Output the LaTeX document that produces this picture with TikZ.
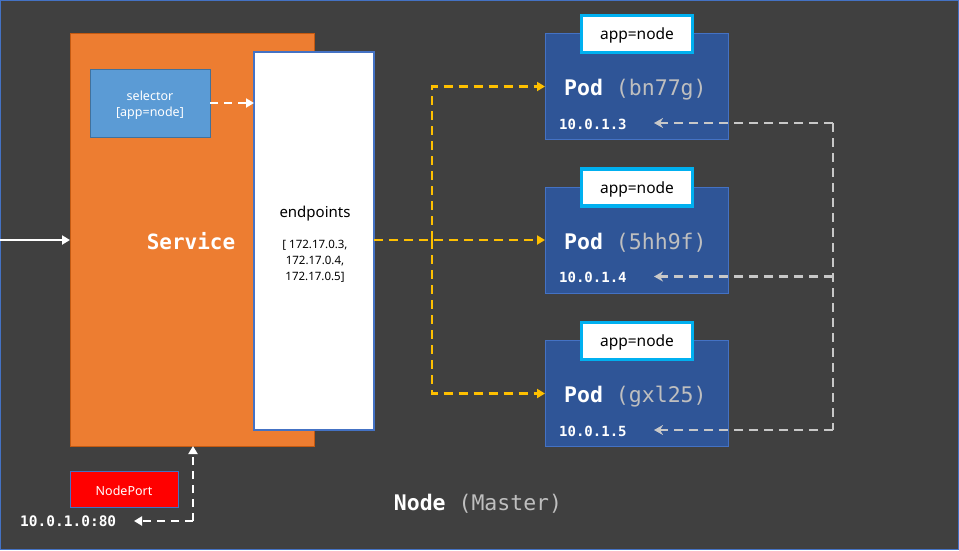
\documentclass[tikz,border=0pt]{standalone}
\usepackage{fontspec}
\setmainfont{Noto Sans}
\newfontfamily\monof{DejaVu Sans Mono}
\usetikzlibrary{arrows.meta}
\definecolor{bgc}{HTML}{404040}
\definecolor{frame}{HTML}{4472C4}
\definecolor{svcc}{HTML}{ED7D31}
\definecolor{svcb}{HTML}{C55A11}
\definecolor{selc}{HTML}{5B9BD5}
\definecolor{selb}{HTML}{41719C}
\definecolor{podc}{HTML}{2F5597}
\definecolor{labb}{HTML}{00B0F0}
\definecolor{yel}{HTML}{FFC000}
\definecolor{gry}{HTML}{BFBFBF}
\definecolor{lgry}{HTML}{C8C8C8}
\tikzset{
  box/.style={draw, inner sep=0pt, outer sep=0pt},
  podbox/.style={box, fill=podc, draw=frame, line width=1pt, minimum width=183pt, minimum height=106pt},
  labbox/.style={box, fill=white, draw=labb, line width=3.5pt, minimum width=111pt, minimum height=37pt, font=\fontsize{15.5}{18}\selectfont},
  podtxt/.style={inner sep=0pt, anchor=west, text=white, font=\monof\fontsize{21.5}{25}\selectfont},
  iptxt/.style={inner sep=0pt, anchor=west, text=white, font=\monof\bfseries\fontsize{14}{16}\selectfont},
  ydash/.style={draw=yel, line width=2.5pt, dash pattern=on 9pt off 6pt, -{Triangle[length=8pt,width=9pt]}},
  gline/.style={draw=lgry, line width=2.5pt, dash pattern=on 9pt off 6pt},
  gdash/.style={gline, -{Stealth[length=9pt,width=10pt]}},
  wdash/.style={draw=white, line width=2.5pt, dash pattern=on 8pt off 6pt, -{Triangle[length=8pt,width=9pt]}},
}
\begin{document}
\begin{tikzpicture}[x=1pt,y=-1pt]
\fill[bgc] (0,0) rectangle (959,550);
\useasboundingbox (0,0) rectangle (959,550);
\draw[frame, line width=1.2pt] (0.6,0.6) rectangle (958.4,549.4);

% Service
\node[box, fill=svcc, draw=svcb, line width=1pt, minimum width=244pt, minimum height=413pt] (svc) at (192,239.5) {};
\node[inner sep=0pt, text=white, font=\monof\bfseries\fontsize{21}{24}\selectfont] (svctxt) at (191,241.5) {Service};
\node[box, fill=selc, draw=selb, line width=1pt, minimum width=120pt, minimum height=68pt, text=white, align=center, font=\fontsize{12.5}{16}\selectfont] (sel) at (150,103) {};
\node[inner sep=0pt, text=white, align=center, font=\fontsize{12.5}{16}\selectfont] (seltxt) at (150,105) {selector\\{}[app=node]};
\node[box, fill=white, draw=frame, line width=2pt, minimum width=120pt, minimum height=378pt] (ep) at (314,241) {};
\node[inner sep=0pt, font=\fontsize{15}{18}\selectfont] (eptxt) at (315,213.5) {endpoints};
\node[inner sep=0pt, align=center, font=\fontsize{11.5}{16}\selectfont] (eplist) at (315,261.5) {{}[ 172.17.0.3,\\172.17.0.4,\\172.17.0.5]};
\draw[wdash] (sel.east) -- (ep.west |- sel.east);

% incoming
\coordinate (inl) at (0,240);
\draw[white, line width=2pt, -{Triangle[length=8pt,width=9pt]}] (inl) -- (svc.west |- inl);

% NodePort
\node[box, fill=red, draw=frame, line width=1pt, minimum width=108pt, minimum height=36pt] (np) at (124,489) {};
\node[inner sep=0pt, text=white, font=\fontsize{12.5}{15}\selectfont] (nptxt) at (124,490.5) {NodePort};
\node[inner sep=0pt, anchor=west, text=white, font=\monof\bfseries\fontsize{14.5}{16}\selectfont] (npip) at (20,521.5) {10.0.1.0:80};
\coordinate (npc) at (193,521);
\coordinate (npt) at (134,521);
\draw[wdash] (npc) -- (npt);
\draw[wdash] (npc) -- (npc |- svc.south);

% Pods
\foreach \i/\y/\nm in {1/86.5/bn77g, 2/240/5hh9f, 3/393.5/gxl25}{
  \node[podbox] (pod\i) at (636.5,\y) {};
  \node[labbox] (lab\i) at (637,\y-52.5) {};
  \node[inner sep=0pt, font=\fontsize{15.5}{18}\selectfont] (labtxt\i) at (637,\y-51) {app=node};
  \node[podtxt] (ptxt\i) at (564,\y+3) {\textbf{Pod} \textcolor{gry}{(\nm)}};
  \node[iptxt] (ip\i) at (559,\y+37.5) {10.0.1.\the\numexpr\i+2\relax};
  \coordinate (ipt\i) at (654,\y+36.5);
  \coordinate (g\i) at (833, \y+36.5);
}

% yellow
\coordinate (yj) at (432,240);
\draw[ydash] (ep.east |- pod2.west) -- (pod2.west);
\draw[ydash] (yj) |- (pod1.west);
\draw[ydash] (yj) |- (pod3.west);

% gray
\draw[gline] (g1) -- (g3);
\draw[gdash] (g1) -- (ipt1);
\draw[gdash] (g2) -- (ipt2);
\draw[gdash] (g3) -- (ipt3);

% Node label
\node[inner sep=0pt, text=white, font=\monof\fontsize{21.5}{25}\selectfont] (nodelbl) at (478,504) {\textbf{Node} \textcolor{gry}{(Master)}};
\end{tikzpicture}
\end{document}
